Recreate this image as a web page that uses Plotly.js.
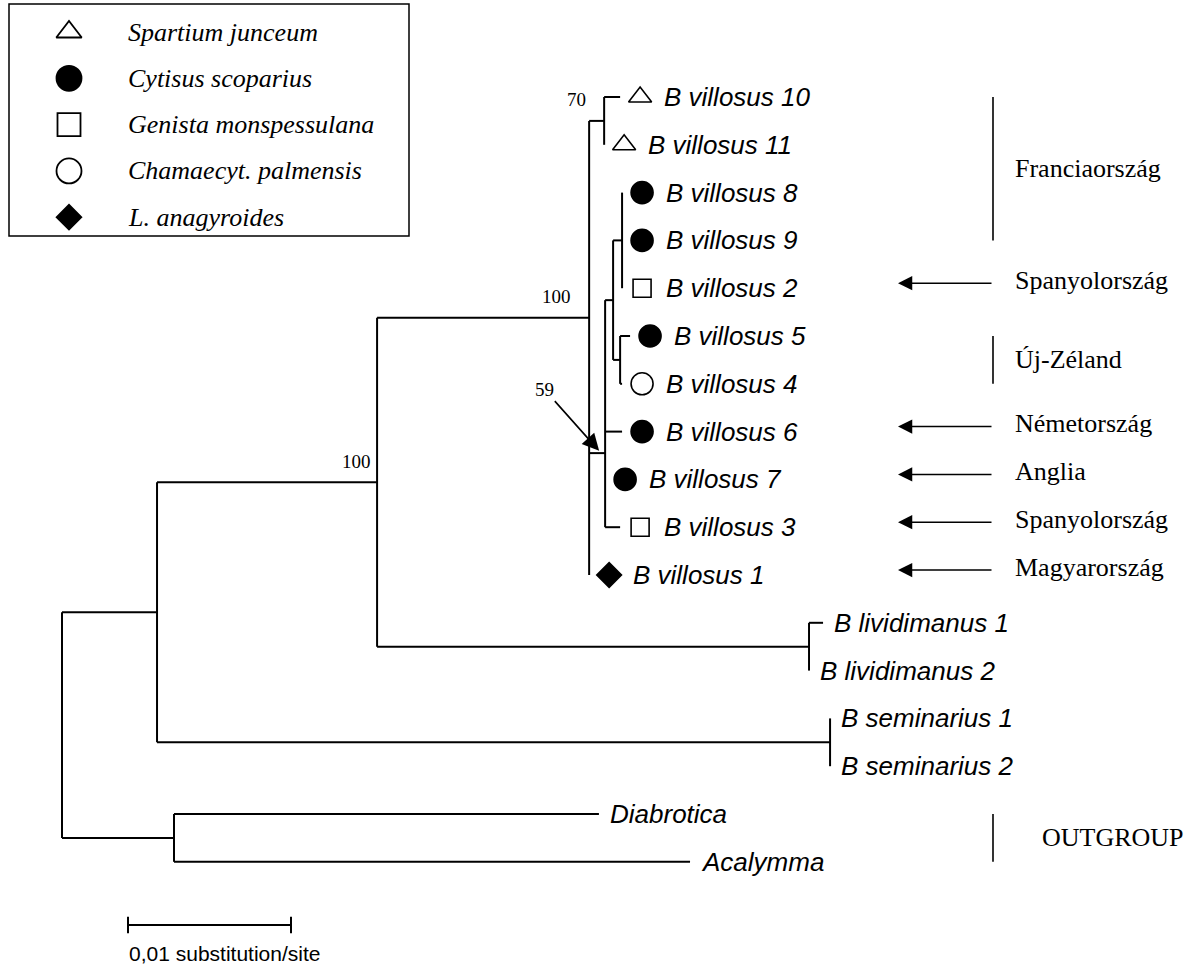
<!DOCTYPE html>
<html>
<head>
<meta charset="utf-8">
<script src="https://cdn.plot.ly/plotly-3.0.1.min.js"></script>
<style>html,body{margin:0;padding:0;background:#fff;}</style>
</head>
<body>
<div id="tree" style="width:1198px;height:967px;"></div>
<script>
// ---- Tree data: parent index and branch length (substitutions/site) ----
const nodeLabel = [
  '', '', '', '', '', 'B villosus 10', 'B villosus 11', '', '', '',
  'B villosus 8', 'B villosus 9', 'B villosus 2', '', 'B villosus 5', 'B villosus 4',
  'B villosus 6', 'B villosus 7', 'B villosus 3', 'B villosus 1', '',
  'B lividimanus 1', 'B lividimanus 2', '', 'B seminarius 1', 'B seminarius 2',
  '', 'Diabrotica', 'Acalymma'
];
const nodeParent = [
  -1, 0, 1, 2, 3, 4, 4, 3, 7, 8,
  9, 9, 9, 8, 13, 13,
  7, 7, 7, 3, 2,
  20, 20, 1, 23, 23,
  0, 26, 26
];
const branchLength = [
  0, 0.00583, 0.01350, 0.01301, 0.00092, 0.00098, 0, 0.00098, 0.00049, 0.00055,
  0, 0, 0, 0.00043, 0.00061, 0.00012,
  0.00104, 0, 0.00092, 0, 0.02650,
  0.00086, 0, 0.04129, 0, 0,
  0.00687, 0.02607, 0.03166
];
// bootstrap support of internal nodes
const bootstrap = {2: 100, 3: 100, 4: 70, 7: 59};
// row where a multifurcating node joins its parent (others sit midway between children)
const joinRow = {3: 4.62, 7: 7.45};

// host plant of each B. villosus sample
const hostNames = ['Spartium junceum', 'Cytisus scoparius', 'Genista monspessulana',
                   'Chamaecyt. palmensis', 'L. anagyroides'];
const leafHost = {
  'B villosus 10': 0, 'B villosus 11': 0, 'B villosus 8': 1, 'B villosus 9': 1,
  'B villosus 2': 2, 'B villosus 5': 1, 'B villosus 4': 3, 'B villosus 6': 1,
  'B villosus 7': 1, 'B villosus 3': 2, 'B villosus 1': 4
};

// geographic origin, as spans of leaf rows
const regionNames = ['Franciaország', 'Spanyolország', 'Új-Zéland', 'Németország',
                     'Anglia', 'Spanyolország', 'Magyarország', 'OUTGROUP'];
const regionFirstRow = [0, 4, 5, 7, 8, 9, 10, 15];
const regionLastRow  = [3, 4, 6, 7, 8, 9, 10, 16];

const scaleBarLength = 0.01;
const scaleBarLabel = '0,01 substitution/site';

// ---- page geometry / styling ----
const W = 1198, H = 967;
const PX_PER_UNIT = 16300;          // horizontal pixels per substitution/site
const ROOT_PX = 62;
const ROW_TOP = 97, ROW_STEP = 47.8;
const toX = px => (px - ROOT_PX) / PX_PER_UNIT;
const dX = px => px / PX_PER_UNIT;
const toRow = py => (py - ROW_TOP) / ROW_STEP;

const SANS = 'Liberation Sans, Arial, sans-serif';
const SERIF = 'Liberation Serif, Times New Roman, serif';
const hostSymbols = ['triangle-up-open', 'circle', 'square-open', 'circle-open', 'diamond'];
const hostSizes = [20, 22, 18, 22, 19];
const legendSizes = [22, 25, 23, 25, 19];

// ---- layout of the tree ----
const N = nodeParent.length;
const children = nodeParent.map(() => []);
nodeParent.forEach((p, i) => { if (p >= 0) children[p].push(i); });
const nodeX = new Array(N), nodeY = new Array(N);
for (let i = 0; i < N; i++) {
  nodeX[i] = (nodeParent[i] < 0 ? 0 : nodeX[nodeParent[i]]) + branchLength[i];
}
let nextRow = 0;
(function place(i) {
  const c = children[i];
  if (!c.length) { nodeY[i] = nextRow++; return; }
  c.forEach(place);
  nodeY[i] = (i in joinRow) ? joinRow[i] : (nodeY[c[0]] + nodeY[c[c.length - 1]]) / 2;
})(0);

// branches: horizontal to parent, vertical spanning children
const lx = [], ly = [];
for (let i = 0; i < N; i++) {
  const p = nodeParent[i];
  if (p >= 0 && branchLength[i] > 0) { lx.push(nodeX[p], nodeX[i], null); ly.push(nodeY[i], nodeY[i], null); }
  const c = children[i];
  if (c.length) {
    lx.push(nodeX[i], nodeX[i], null);
    ly.push(nodeY[c[0]], nodeY[c[c.length - 1]], null);
  }
}

const traces = [{
  type: 'scatter', mode: 'lines', x: lx, y: ly, xaxis: 'x', yaxis: 'y',
  line: {color: '#000', width: 2}, hoverinfo: 'skip', showlegend: false
}];

const annotations = [];
const shapes = [];

// leaf host markers + leaf names
const leaves = [];
for (let i = 0; i < N; i++) if (!children[i].length) leaves.push(i);
hostNames.forEach((h, k) => {
  const ids = leaves.filter(i => leafHost[nodeLabel[i]] === k);
  traces.push({
    type: 'scatter', mode: 'markers', xaxis: 'x', yaxis: 'y', showlegend: false,
    x: ids.map(i => nodeX[i] + dX(20)), y: ids.map(i => nodeY[i]),
    marker: {symbol: hostSymbols[k], size: hostSizes[k], color: '#000',
             line: {color: '#000', width: 1.6}},
    hoverinfo: 'skip'
  });
});
leaves.forEach(i => {
  const hosted = nodeLabel[i] in leafHost;
  annotations.push({
    xref: 'x', yref: 'y', x: nodeX[i], y: nodeY[i], xanchor: 'left', yanchor: 'middle',
    xshift: hosted ? 42 : 9, showarrow: false,
    text: '<i>' + nodeLabel[i] + '</i>', font: {family: SANS, size: 26, color: '#000'}
  });
});

// bootstrap values
Object.keys(bootstrap).forEach(k => {
  const i = +k;
  if (bootstrap[i] === 59) {
    annotations.push({
      xref: 'x', yref: 'y', x: nodeX[i] - dX(4), y: nodeY[i], ax: -57, ay: -64,
      text: String(bootstrap[i]), showarrow: true, arrowhead: 2, arrowsize: 2.1,
      arrowwidth: 1.6, arrowcolor: '#000', standoff: 3,
      font: {family: SERIF, size: 19, color: '#000'}
    });
  } else {
    annotations.push({
      xref: 'x', yref: 'y', x: nodeX[i], y: nodeY[i], xanchor: 'right', yanchor: 'middle',
      xshift: i === 2 ? -4 : -16, yshift: 21, showarrow: false,
      text: String(bootstrap[i]), font: {family: SERIF, size: 19, color: '#000'}
    });
  }
});

// geographic origin column
const BAR_PX = 993, TIP_PX = 898, TEXT_PX = 1013;
const ARROW_DY = -5 / ROW_STEP;      // pointer arrows sit slightly above the leaf row
regionNames.forEach((name, k) => {
  const r0 = regionFirstRow[k], r1 = regionLastRow[k];
  const single = r1 === r0;
  if (!single) {
    shapes.push({type: 'line', xref: 'x', yref: 'y', x0: toX(BAR_PX), x1: toX(BAR_PX),
                 y0: r0, y1: r1, line: {color: '#000', width: 1.6}});
  } else {
    annotations.push({xref: 'x', yref: 'y', axref: 'x', ayref: 'y',
      x: toX(TIP_PX), y: r0 + ARROW_DY, ax: toX(BAR_PX), ay: r0 + ARROW_DY, text: '',
      showarrow: true, arrowhead: 2, arrowsize: 1.9, arrowwidth: 1.5, arrowcolor: '#000',
      standoff: 0});
  }
  annotations.push({
    xref: 'x', yref: 'y', x: toX(TEXT_PX), y: (r0 + r1) / 2 + (single ? ARROW_DY : 0),
    xanchor: 'left', yanchor: 'middle',
    xshift: name === 'OUTGROUP' ? 27 : 0, yshift: single ? 3 : 0, showarrow: false, text: name,
    font: {family: SERIF, size: 26, color: '#000'}
  });
});

// scale bar
const SB_X0 = toX(128), SB_ROW = toRow(925);
shapes.push({type: 'line', xref: 'x', yref: 'y', x0: SB_X0, x1: SB_X0 + scaleBarLength,
             y0: SB_ROW, y1: SB_ROW, line: {color: '#000', width: 2}});
[SB_X0, SB_X0 + scaleBarLength].forEach(x => shapes.push({
  type: 'line', xref: 'x', yref: 'y', x0: x, x1: x, y0: SB_ROW - 0.17, y1: SB_ROW + 0.17,
  line: {color: '#000', width: 2}}));
annotations.push({xref: 'x', yref: 'y', x: SB_X0, y: toRow(953), xanchor: 'left',
  yanchor: 'middle', xshift: -1, showarrow: false, text: scaleBarLabel,
  font: {family: SANS, size: 21, color: '#000'}});

// host legend, drawn in its own small axes
const LEG = {left: 9, right: 409, top: 4, bottom: 236, first: 32, step: 46.3};
hostNames.forEach((h, k) => {
  traces.push({
    type: 'scatter', mode: 'markers', xaxis: 'x2', yaxis: 'y2', showlegend: false,
    x: [60], y: [k], hoverinfo: 'skip',
    marker: {symbol: hostSymbols[k], size: legendSizes[k], color: '#000',
             line: {color: '#000', width: 1.8}}
  });
  annotations.push({xref: 'x2', yref: 'y2', x: 117, y: k, xanchor: 'left', yanchor: 'middle',
    showarrow: false, text: '<i>' + h + '</i>', font: {family: SERIF, size: 26, color: '#000'}});
});
shapes.push({type: 'rect', xref: 'paper', yref: 'paper',
  x0: LEG.left / W, x1: LEG.right / W, y0: 1 - LEG.bottom / H, y1: 1 - LEG.top / H,
  line: {color: '#000', width: 1.5}, fillcolor: 'rgba(0,0,0,0)'});

const hidden = {visible: false, showgrid: false, zeroline: false, fixedrange: true};
const layout = {
  width: W, height: H, margin: {l: 0, r: 0, t: 0, b: 0},
  paper_bgcolor: '#fff', plot_bgcolor: 'rgba(0,0,0,0)', showlegend: false,
  xaxis: Object.assign({range: [toX(0), toX(W)], domain: [0, 1]}, hidden),
  yaxis: Object.assign({range: [toRow(H), toRow(0)], domain: [0, 1]}, hidden),
  xaxis2: Object.assign({range: [0, LEG.right - LEG.left], domain: [LEG.left / W, LEG.right / W],
                         anchor: 'y2'}, hidden),
  yaxis2: Object.assign({range: [(LEG.bottom - LEG.first) / LEG.step, (LEG.top - LEG.first) / LEG.step],
                         domain: [1 - LEG.bottom / H, 1 - LEG.top / H], anchor: 'x2'}, hidden),
  annotations: annotations, shapes: shapes, hovermode: false
};

Plotly.newPlot('tree', traces, layout, {displayModeBar: false, staticPlot: true});
</script>
</body>
</html>
